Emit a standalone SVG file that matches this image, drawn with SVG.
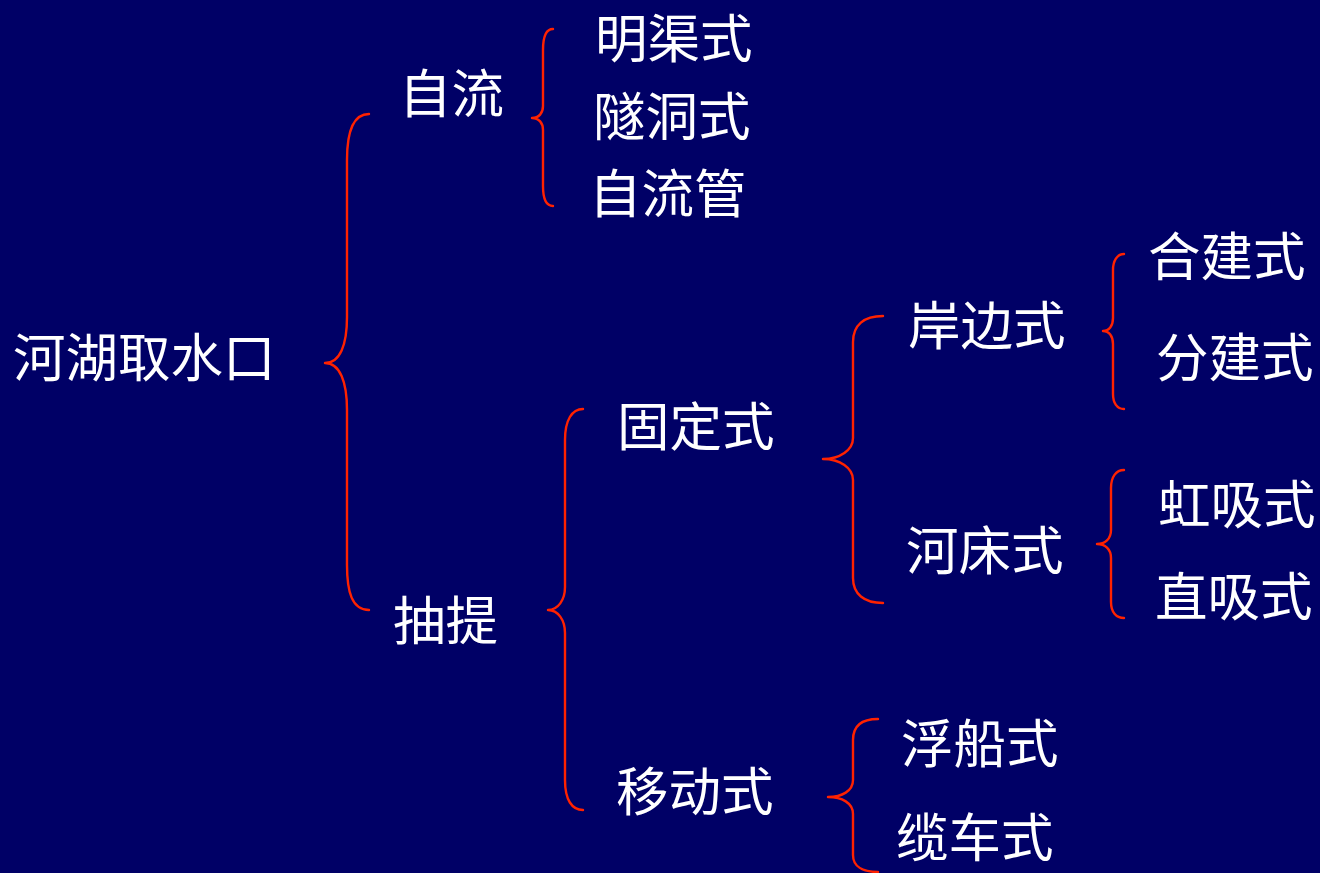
<svg xmlns="http://www.w3.org/2000/svg" width="1320" height="873" viewBox="0 0 1320 873">
<style>
.t{font-family:"Noto Sans CJK SC","Noto Sans CJK JP",sans-serif;font-size:52.5px;fill:#ffffff}
.b{fill:none;stroke:#ff2200;stroke-width:2.4;stroke-linecap:round;stroke-linejoin:round}
</style>
<rect width="1320" height="873" fill="#000066"/>
<g id="connectors">
<path class="b" d="M369,114 C352,114 347,135 347,160 L347,317 C347,345 340,363 325,363 C340,363 347,382 347,410 L347,565 C347,592 352,610 369,610"/>
<path class="b" d="M553,29 C546,29 543,38 543,50 L543,106 C543,113 539,118 532,118 C539,118 543,123 543,130 L543,186 C543,198 546,206 553,206"/>
<path class="b" d="M583,409 C572,409 565,420 565,440 L565,587 C565,600 558,610 548,610 C558,610 565,620 565,633 L565,780 C565,800 572,810 583,810"/>
<path class="b" d="M883,316 C864,316 853,325 853,342 L853,438 C853,450 840,459 823,459 C840,459 853,468 853,480 L853,578 C853,594 864,603 883,603"/>
<path class="b" d="M1124,254 C1117,254 1113,261 1113,270 L1113,318 C1113,326 1109,331 1103,331 C1109,331 1113,336 1113,344 L1113,394 C1113,403 1117,409 1124,409"/>
<path class="b" d="M1124,470 C1116,470 1111,477 1111,488 L1111,530 C1111,539 1105,544 1097,544 C1105,544 1111,549 1111,558 L1111,602 C1111,612 1116,618 1124,618"/>
<path class="b" d="M878,719 C862,719 853,726 853,740 L853,780 C853,791 842,797 828,797 C842,797 853,803 853,814 L853,855 C853,866 862,872 878,872"/>
</g>
<g id="n-root"><text class="t" x="13" y="377">河湖取水口</text></g>
<g id="n-ziliu"><text class="t" x="399" y="113">自流</text></g>
<g id="n-mingqu"><text class="t" x="595" y="58">明渠式</text></g>
<g id="n-suidong"><text class="t" x="593" y="136">隧洞式</text></g>
<g id="n-ziliuguan"><text class="t" x="589" y="213">自流管</text></g>
<g id="n-chouti"><text class="t" x="393" y="640">抽提</text></g>
<g id="n-guding"><text class="t" x="617" y="446">固定式</text></g>
<g id="n-yidong"><text class="t" x="616" y="811">移动式</text></g>
<g id="n-anbian"><text class="t" x="908" y="345">岸边式</text></g>
<g id="n-hechuang"><text class="t" x="906" y="570">河床式</text></g>
<g id="n-hejian"><text class="t" x="1148" y="276">合建式</text></g>
<g id="n-fenjian"><text class="t" x="1156" y="377">分建式</text></g>
<g id="n-hongxi"><text class="t" x="1158" y="524">虹吸式</text></g>
<g id="n-zhixi"><text class="t" x="1155" y="616">直吸式</text></g>
<g id="n-fuchuan"><text class="t" x="901" y="763">浮船式</text></g>
<g id="n-lanche"><text class="t" x="896" y="857">缆车式</text></g>
</svg>
